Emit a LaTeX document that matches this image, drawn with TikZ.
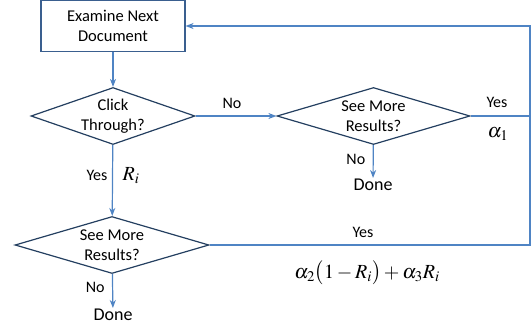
\documentclass[tikz,border=0pt]{standalone}
\usepackage{mathptmx}
\usepackage[no-math]{fontspec}
\setmainfont{Carlito}
\usepackage{tikz}
\usetikzlibrary{positioning, shapes.geometric, arrows.meta}

\definecolor{boxline}{HTML}{3A5F8F}
\definecolor{decline}{HTML}{243F60}
\definecolor{flowline}{HTML}{4F84C4}

\begin{document}
\begin{tikzpicture}[x=1pt, y=-1pt,
    stepbox/.style={draw=boxline, line width=1.1pt, minimum width=144pt, minimum height=51pt, inner sep=0pt, align=center, font=\fontsize{16.5}{20.5}\selectfont},
    decision/.style={diamond, draw=decline, line width=1.2pt, inner sep=0pt, align=center, font=\fontsize{16.5}{20.5}\selectfont},
    flow/.style={draw=flowline, line width=1.2pt},
    flowarrow/.style={flow, -{Stealth[length=8pt, width=6pt, inset=2.5pt]}},
    lbl/.style={font=\fontsize{16}{18}\selectfont},
    endlbl/.style={font=\fontsize{18}{20}\selectfont, inner sep=1pt},
    prob/.style={font=\fontsize{20}{22}\selectfont}]
    \useasboundingbox (0,0) rectangle (532,335);

    % Nodes
    \node[stepbox] (exam) at (113,26) {Examine Next\\Document};
    \node[decision, aspect=2.88, minimum width=164pt, minimum height=57pt] (click) at (113,116) {Click\\Through?};
    \node[decision, aspect=3.4, minimum width=193pt, minimum height=57pt] (more1) at (373.5,116) {See More\\Results?};
    \node[decision, aspect=3.4, minimum width=194pt, minimum height=57pt] (more2) at (112,245) {See More\\Results?};
    \node[endlbl, anchor=north] (done1) at (373,178) {Done};
    \node[endlbl, anchor=north] (done2) at (113,308) {Done};
    \coordinate (jr) at (530,116);
    \coordinate (jt) at (530,26);

    % Connectors
    \draw[flowarrow] (exam) -- (click);
    \draw[flowarrow] (click) -- (more1) node[lbl, pos=0.45, above=3pt] {No};
    \draw[flowarrow] (more1) -- (done1) node[lbl, pos=0.45, left=4pt] {No};
    \draw[flowarrow] (click) -- (more2);
    \draw[flowarrow] (more2) -- (done2) node[lbl, pos=0.4, left=4pt] {No};
    \draw[flow] (more1.east) -- (jr);
    \draw[flowarrow] (jr) -- (jt) -- (exam.east);
    \draw[flow] (more2.east) -| (jr);

    % Labels
    \node[lbl] (yes1) at (497,102) {Yes};
    \node[prob] (a1) at (498,134) {$\alpha_1$};
    \node[lbl] (yes2) at (97,175) {Yes};
    \node[prob] (ri) at (131,176) {$R_i$};
    \node[lbl] (yes3) at (363,232) {Yes};
    \node[prob] (a23) at (367,273) {$\alpha_2\bigl(1-R_i\bigr)+\alpha_3 R_i$};
\end{tikzpicture}
\end{document}
